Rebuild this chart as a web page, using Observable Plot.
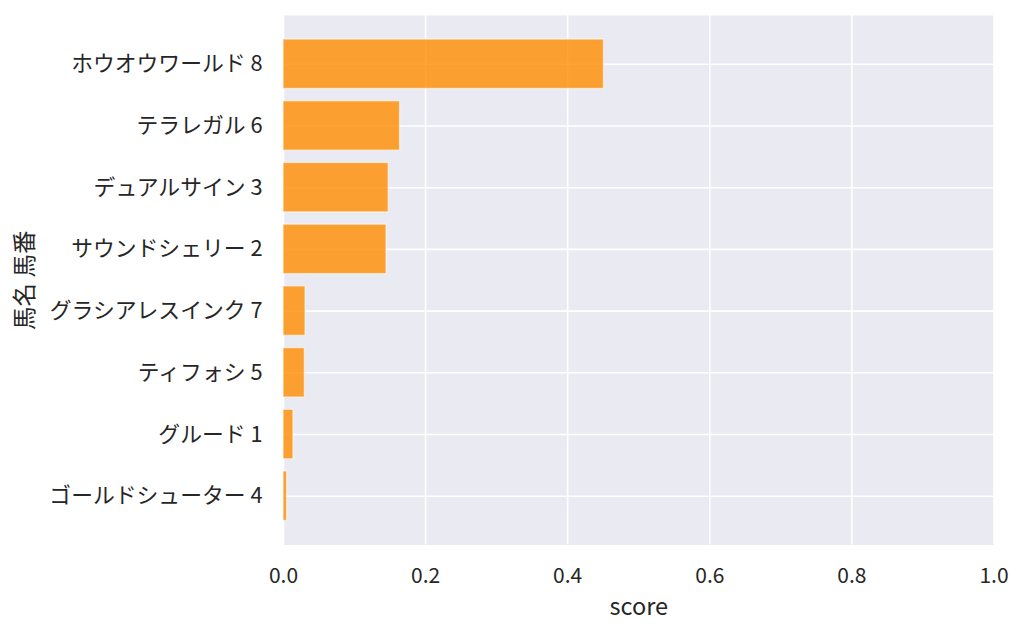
<!DOCTYPE html>
<html>
<head>
<meta charset="utf-8">
<script src="https://cdn.jsdelivr.net/npm/d3@7"></script>
<script src="https://cdn.jsdelivr.net/npm/@observablehq/plot@0.6"></script>
<style>
  html, body { margin: 0; padding: 0; background: #ffffff; }
  #chart svg { display: block; }
</style>
</head>
<body>
<div id="chart"></div>
<script>
const names = ["ホウオウワールド 8", "テラレガル 6", "デュアルサイン 3", "サウンドシェリー 2", "グラシアレスインク 7", "ティフォシ 5", "グルード 1", "ゴールドシューター 4"];
const scores = [0.451, 0.164, 0.148, 0.145, 0.031, 0.030, 0.014, 0.005];
const xTicks = [0, 0.2, 0.4, 0.6, 0.8, 1.0];
const xLabel = "score";
const yLabel = "馬名 馬番";

const data = names.map((n, i) => ({name: n, score: scores[i]}));
const font = "'Noto Sans CJK JP', 'Noto Sans', sans-serif";
const ink = "#262626";

const chart = Plot.plot({
  width: 1024,
  height: 634,
  marginLeft: 283,
  marginRight: 30.5,
  marginTop: 15,
  marginBottom: 89.5,
  style: {fontFamily: font, color: ink, background: "#ffffff"},
  x: {domain: [0, 1]},
  y: {domain: names, paddingInner: 0.2, paddingOuter: 0.39, round: false},
  marks: [
    Plot.frame({fill: "#EAEAF2", stroke: null}),
    Plot.gridX(xTicks, {stroke: "#ffffff", strokeOpacity: 1, strokeWidth: 1.6}),
    Plot.gridY({stroke: "#ffffff", strokeOpacity: 1, strokeWidth: 1.6}),
    Plot.barX(data, {x: "score", y: "name", fill: "darkorange", fillOpacity: 0.8, stroke: "#ffffff", strokeOpacity: 0.55, strokeWidth: 1.3}),
    Plot.axisX({ticks: xTicks, tickFormat: d3.format(".1f"), tickSize: 0, tickPadding: 23, fontSize: 21, label: null, fill: ink}),
    Plot.axisY({tickSize: 0, tickPadding: 21, fontSize: 21.8, label: null, fill: ink}),
    Plot.text([xLabel], {frameAnchor: "bottom", dy: 62.5, textAnchor: "middle", lineAnchor: "middle", fontSize: 23.5, fill: ink, text: d => d}),
    Plot.text([yLabel], {frameAnchor: "left", dx: -258, rotate: -90, textAnchor: "middle", lineAnchor: "middle", fontSize: 23.5, fill: ink, text: d => d})
  ]
});
document.getElementById("chart").appendChild(chart);
</script>
</body>
</html>
